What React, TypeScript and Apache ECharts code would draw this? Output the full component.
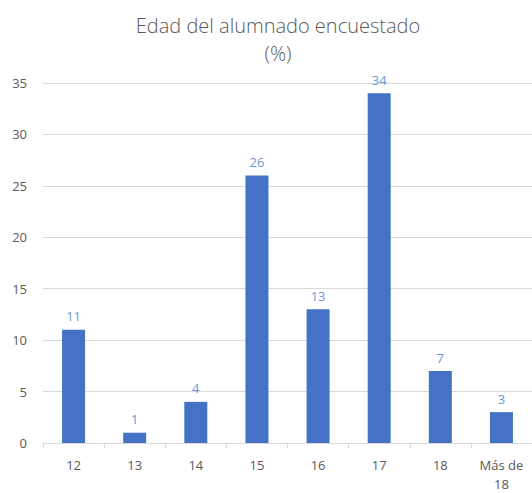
import React, { useEffect, useRef } from "react";
import * as echarts from "echarts";

const categories = ["12", "13", "14", "15", "16", "17", "18", "Más de\n18"];
const values = [11, 1, 4, 26, 13, 34, 7, 3];
const yTicks = { min: 0, max: 35, interval: 5 };
const titleText = "Edad del alumnado encuestado\n(%)";

export default function App() {
  const ref = useRef<HTMLDivElement>(null);
  useEffect(() => {
    if (!ref.current) return;
    const chart = echarts.init(ref.current, undefined, { renderer: "svg" });
    const font = "'Open Sans', 'Noto Sans', sans-serif";
    chart.setOption({
      animation: false,
      backgroundColor: "#ffffff",
      title: {
        text: titleText,
        left: 273,
        top: 6,
        textAlign: "center",
        textStyle: {
          fontFamily: font,
          fontSize: 20,
          fontWeight: 300,
          color: "#595959",
          lineHeight: 28,
        },
      },
      grid: { left: 43, top: 83, width: 496, height: 362, containLabel: false },
      xAxis: {
        type: "category",
        data: categories,
        axisLine: { show: true, lineStyle: { color: "#d9d9d9", width: 1 } },
        axisTick: { show: true, length: 5, lineStyle: { color: "#d9d9d9" } },
        axisLabel: {
          fontFamily: font,
          fontSize: 13,
          color: "#595959",
          margin: 12,
          lineHeight: 19,
          interval: 0,
        },
      },
      yAxis: {
        type: "value",
        min: yTicks.min,
        max: yTicks.max,
        interval: yTicks.interval,
        axisLine: { show: false },
        axisTick: { show: false },
        splitLine: { lineStyle: { color: "#d9d9d9", width: 1 } },
        axisLabel: {
          fontFamily: font,
          fontSize: 13,
          color: "#595959",
          margin: 16,
        },
      },
      series: [
        {
          type: "bar",
          data: values,
          barWidth: 23,
          itemStyle: { color: "#4472C4" },
          label: {
            show: true,
            position: "top",
            distance: 7,
            fontFamily: font,
            fontSize: 13,
            color: "#7096D8",
          },
        },
      ],
    });
    return () => chart.dispose();
  }, []);
  return <div ref={ref} style={{ width: 532, height: 493, position: "absolute", left: 0, top: 0 }} />;
}
